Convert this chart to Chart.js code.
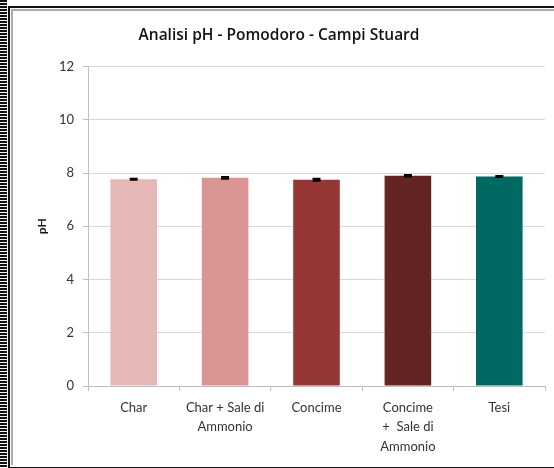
<!DOCTYPE html>
<html>
<head>
<meta charset="utf-8">
<script src="https://cdn.jsdelivr.net/npm/chart.js@4"></script>
<style>
  html, body { margin: 0; padding: 0; background: #fff; }
  #page { position: relative; width: 554px; height: 468px; overflow: hidden; background: #fff; }
  #dots { position: absolute; left: 0; top: 0; width: 7px; height: 468px;
    background: repeating-linear-gradient(to bottom, #111 0 2px, #fff 2px 3px); }
  #frame { position: absolute; left: 8px; top: 6px; width: 560px; height: 459px;
    border-left: 2px solid #111; border-top: 2px solid #111; border-bottom: 2px solid #111; }
  #inner { position: absolute; left: 11px; top: 9px; width: 560px; height: 454px;
    border-left: 2px solid #aaa; border-top: 2px solid #aaa; }
  #wrap { position: absolute; left: 13px; top: 10px; width: 541px; height: 454px; }
</style>
</head>
<body>
<div id="page">
  <div id="dots"></div>
  <div id="frame"></div>
  <div id="inner"></div>
  <div id="wrap"><canvas id="chart"></canvas></div>
</div>
<script>
const categories = ['Char', ['Char + Sale di', 'Ammonio'], 'Concime', ['Concime', '+  Sale di', 'Ammonio'], 'Tesi'];
const phValues = [7.77, 7.82, 7.75, 7.90, 7.87];
const phErrors = [0.02, 0.03, 0.04, 0.03, 0.02];
const barColors = ['#E6B9B8', '#D99694', '#953735', '#632523', '#006961'];
const yTicks = [0, 2, 4, 6, 8, 10, 12];

const FONT = 'Lato, "Open Sans", sans-serif';

// small black error bars on top of each bar
const errorBars = {
  id: 'errorBars',
  afterDatasetsDraw(chart) {
    const ctx = chart.ctx;
    const meta = chart.getDatasetMeta(0);
    const y = chart.scales.y;
    ctx.save();
    ctx.strokeStyle = '#000';
    ctx.lineWidth = 2;
    meta.data.forEach((bar, i) => {
      const top = y.getPixelForValue(phValues[i] + phErrors[i]);
      const bot = y.getPixelForValue(phValues[i] - phErrors[i]);
      ctx.beginPath();
      ctx.moveTo(bar.x, top); ctx.lineTo(bar.x, bot);
      ctx.moveTo(bar.x - 4, top); ctx.lineTo(bar.x + 4, top);
      ctx.moveTo(bar.x - 4, bot); ctx.lineTo(bar.x + 4, bot);
      ctx.stroke();
    });
    ctx.restore();
  }
};

new Chart(document.getElementById('chart'), {
  type: 'bar',
  data: {
    labels: categories,
    datasets: [{
      data: phValues,
      backgroundColor: barColors,
      borderWidth: 0,
      barPercentage: 0.51,
      categoryPercentage: 1
    }]
  },
  plugins: [errorBars],
  options: {
    responsive: true,
    maintainAspectRatio: false,
    animation: false,
    layout: { padding: { left: 0, right: 9, top: 0, bottom: 0 } },
    plugins: {
      legend: { display: false },
      tooltip: { enabled: false },
      title: {
        display: true,
        text: 'Analisi pH - Pomodoro - Campi Stuard',
        color: '#111',
        font: { family: '"Open Sans", Lato, sans-serif', size: 15.5, weight: '600' },
        padding: { top: 16, bottom: 22 }
      }
    },
    scales: {
      x: {
        grid: { offset: true, drawOnChartArea: false, tickLength: 5, color: '#bfbfbf' },
        border: { color: '#bfbfbf' },
        ticks: {
          color: '#333', maxRotation: 0, autoSkip: false, padding: 7,
          font: { family: FONT, size: 13, lineHeight: 1.5 }
        },
        afterFit: (s) => { s.height = 78; }
      },
      y: {
        min: 0, max: 12,
        afterBuildTicks: (s) => { s.ticks = yTicks.map(v => ({ value: v })); },
        grid: { color: '#d9d9d9', tickLength: 5, tickColor: '#bfbfbf' },
        border: { color: '#bfbfbf' },
        ticks: { color: '#333', padding: 9, font: { family: FONT, size: 13 } },
        title: {
          display: true, text: 'pH', color: '#111',
          font: { family: FONT, size: 12, weight: 'bold' },
          padding: { top: 22, bottom: 0 }
        },
        afterFit: (s) => { s.width = 75; }
      }
    }
  }
});
</script>
</body>
</html>
